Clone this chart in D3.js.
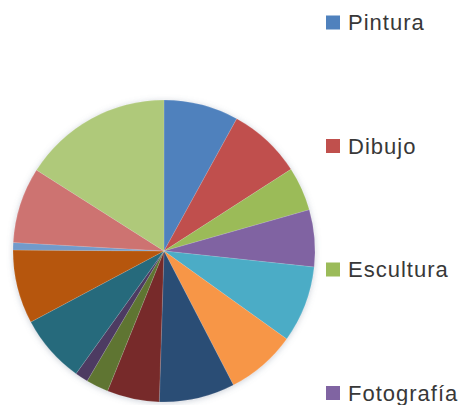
<!DOCTYPE html>
<html>
<head>
<meta charset="utf-8">
<script src="https://cdn.jsdelivr.net/npm/d3@7"></script>
<style>
  html, body { margin: 0; padding: 0; background: #fff; }
  svg { display: block; }
</style>
</head>
<body>
<svg id="chart" width="462" height="405"></svg>
<script>
// slice values (percent), clockwise from 12 o'clock
var values = [8.0, 7.9, 4.7, 6.1, 8.2, 7.5, 8.1, 5.6, 2.4, 1.4, 7.3, 7.9, 0.8, 8.1, 16.0];
var colors = ["#4f81bd", "#c0504d", "#9bbb59", "#8064a2", "#4bacc6", "#f79646",
              "#2c4d75", "#772c2a", "#5f7530", "#4d3b62", "#276a7c", "#b65708",
              "#729aca", "#cd7371", "#afc97a"];
// legend entries visible in the picture
var legendLabels = ["Pintura", "Dibujo", "Escultura", "Fotografía"];

var svg = d3.select("#chart");
var cx = 164, cy = 251, r = 151;

// soft shadow round the pie
var defs = svg.append("defs");
var f = defs.append("filter").attr("id", "shadow")
  .attr("x", "-10%").attr("y", "-10%").attr("width", "120%").attr("height", "120%");
f.append("feDropShadow").attr("dx", 0).attr("dy", 1)
  .attr("stdDeviation", 3).attr("flood-color", "#6a7a90").attr("flood-opacity", 0.35);

var pie = d3.pie().sort(null).value(function(d) { return d; });
var arc = d3.arc().innerRadius(0).outerRadius(r);

var g = svg.append("g")
  .attr("transform", "translate(" + cx + "," + cy + ")")
  .attr("filter", "url(#shadow)");

g.selectAll("path")
  .data(pie(values))
  .enter().append("path")
  .attr("d", arc)
  .attr("fill", function(d, i) { return colors[i]; })
  .attr("stroke", "rgba(255,255,255,0.25)")
  .attr("stroke-width", 0.5);

// legend
var legendY = d3.scaleLinear().domain([0, 1]).range([22.5, 146]);
var lg = svg.append("g").selectAll("g")
  .data(legendLabels)
  .enter().append("g")
  .attr("transform", function(d, i) { return "translate(326," + legendY(i) + ")"; });

lg.append("rect")
  .attr("x", 0).attr("y", -7)
  .attr("width", 14).attr("height", 14)
  .attr("fill", function(d, i) { return colors[i]; });

lg.append("text")
  .attr("x", 22).attr("y", 0)
  .attr("dy", "0.35em")
  .attr("font-family", "Liberation Sans, Arial, sans-serif")
  .attr("font-size", 22)
  .attr("letter-spacing", 1)
  .attr("fill", "#383838")
  .text(function(d) { return d; });
</script>
</body>
</html>
